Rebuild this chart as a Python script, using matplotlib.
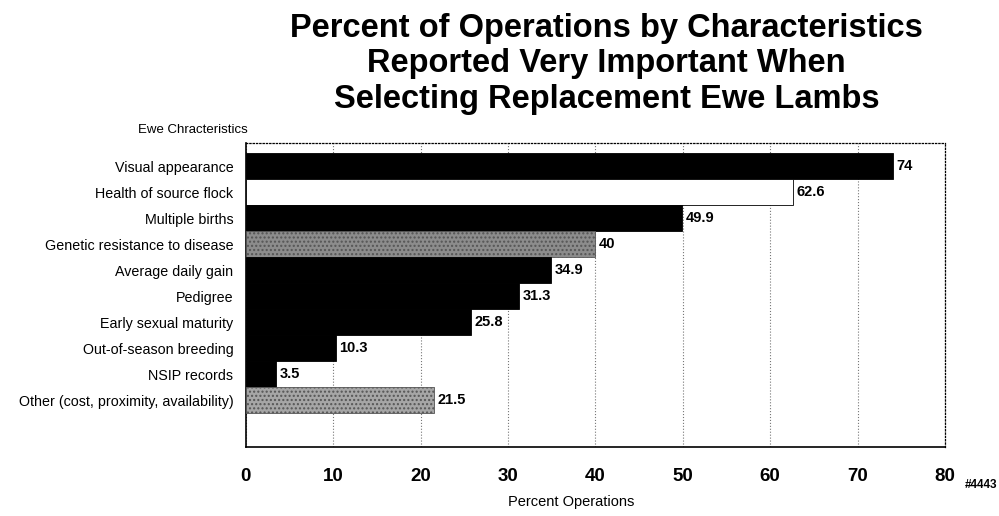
import numpy as np
import matplotlib
matplotlib.use('Agg')
import matplotlib.pyplot as plt
from matplotlib.transforms import ScaledTranslation

plt.rcParams['font.family'] = ['Liberation Sans', 'DejaVu Sans']

# ── Data ─────────────────────────────────────────────────────────────
categories = ['Visual appearance', 'Health of source flock', 'Multiple births',
              'Genetic resistance to disease', 'Average daily gain', 'Pedigree',
              'Early sexual maturity', 'Out-of-season breeding', 'NSIP records',
              'Other (cost, proximity, availability)']
values = [74, 62.6, 49.9, 40, 34.9, 31.3, 25.8, 10.3, 3.5, 21.5]
value_labels = ['74', '62.6', '49.9', '40', '34.9', '31.3', '25.8', '10.3', '3.5', '21.5']
bar_colors = ['black', 'white', 'black', '#8c8c8c', 'black', 'black',
              'black', 'black', 'black', '#a6a6a6']
x_ticks = [0, 10, 20, 30, 40, 50, 60, 70, 80]

# ── Figure ───────────────────────────────────────────────────────────
fig = plt.figure(figsize=(9.99, 5.16), dpi=100)
ax = fig.add_axes([0.246, 0.134, 0.700, 0.589])

y = np.arange(len(categories))
bars = ax.barh(y, values, height=1.0, color=bar_colors,
               edgecolor='black', linewidth=0.6, zorder=3)
for b, c in zip(bars, bar_colors):
    if c not in ('black', 'white'):
        b.set_hatch('....')
        b.set_edgecolor('#555555')

for yi, v, lab in zip(y, values, value_labels):
    ax.text(v + 0.4, yi, lab, ha='left', va='center', fontsize=10.5,
            fontweight='bold', zorder=4,
            bbox=dict(facecolor='white', edgecolor='none', pad=1.0))

ax.set_xlim(0, 80)
ax.set_ylim(10.8, -0.9)
ax.set_yticks(y)
ax.set_yticklabels(categories, fontsize=10.3)
# category labels sit a little below the bar centres in the original
shift = ScaledTranslation(0, -5 / 100, fig.dpi_scale_trans)
for t in ax.get_yticklabels():
    t.set_transform(t.get_transform() + shift)
ax.set_xticks(x_ticks)
ax.set_xticklabels([str(t) for t in x_ticks], fontsize=13.5, fontweight='bold')
ax.tick_params(axis='both', length=0)
ax.tick_params(axis='x', pad=15)
ax.tick_params(axis='y', pad=9)

ax.grid(axis='x', linestyle=':', color='#777777', linewidth=0.8, zorder=0)
ax.set_axisbelow(True)

for s in ['left', 'bottom']:
    ax.spines[s].set_linewidth(1.2)
for s in ['top', 'right']:
    ax.spines[s].set_linestyle(':')
    ax.spines[s].set_linewidth(0.9)

ax.set_xlabel('Percent Operations', fontsize=10.5)
ax.xaxis.set_label_coords(0.465, -0.16)

fig.text(0.607, 0.975, 'Percent of Operations by Characteristics\n'
         'Reported Very Important When\n'
         'Selecting Replacement Ewe Lambs',
         ha='center', va='top', fontsize=23.5, fontweight='bold', linespacing=1.18)
fig.text(0.248, 0.748, 'Ewe Chracteristics', ha='right', va='center', fontsize=9.5)
fig.text(0.998, 0.06, '#4443', ha='right', va='center', fontsize=8.5,
         fontweight='bold')

fig.savefig('out.png', dpi=100)
